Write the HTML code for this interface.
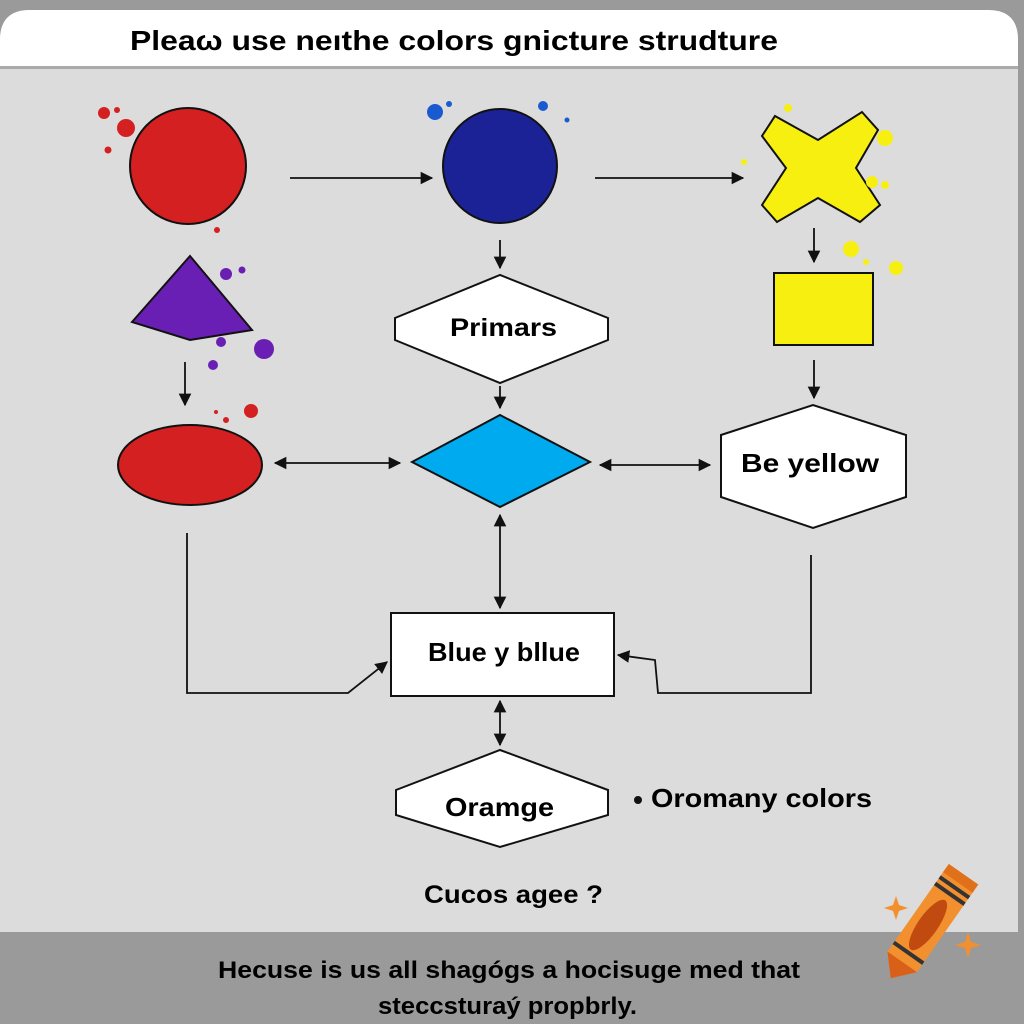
<!DOCTYPE html>
<html><head><meta charset="utf-8"><style>
html,body{margin:0;padding:0;background:#999;}
svg{display:block;font-family:"Liberation Sans",sans-serif;}
</style></head><body>
<svg width="1024" height="1024" viewBox="0 0 1024 1024" xmlns="http://www.w3.org/2000/svg">
<defs>
<marker id="a" viewBox="0 0 10 10" refX="9" refY="5" markerWidth="7" markerHeight="7" orient="auto-start-reverse"><path d="M0,0L10,5L0,10z" fill="#111"/></marker>
</defs>
<rect width="1024" height="1024" fill="#9a9a9a"/>
<path d="M0,932 L0,40 Q0,10 30,10 L988,10 Q1018,10 1018,40 L1018,932 Z" fill="#dcdcdc"/>
<path d="M0,66 L0,40 Q0,10 30,10 L988,10 Q1018,10 1018,40 L1018,66 Z" fill="#fff"/>
<rect x="0" y="66" width="1018" height="3" fill="#aaa"/>
<text x="130" y="50" font-size="28" font-weight="bold" fill="#000" textLength="648" lengthAdjust="spacingAndGlyphs">Pleaω  use neıthe colors  gnicture strudture</text>

<circle cx="188" cy="166" r="58" fill="#d42020" stroke="#111" stroke-width="2"/>
<circle cx="126" cy="128" r="9" fill="#d42020"/><circle cx="104" cy="113" r="6" fill="#d42020"/><circle cx="117" cy="110" r="3" fill="#d42020"/><circle cx="108" cy="150" r="3.5" fill="#d42020"/><circle cx="217" cy="230" r="3" fill="#d42020"/>
<circle cx="500" cy="166" r="57" fill="#1a2296" stroke="#111" stroke-width="2"/>
<circle cx="435" cy="112" r="8" fill="#1a5ad0"/><circle cx="449" cy="104" r="3" fill="#1a5ad0"/><circle cx="543" cy="106" r="5" fill="#1a5ad0"/><circle cx="567" cy="120" r="2.5" fill="#1a5ad0"/>
<path d="M775,116 L818,140 L862,112 L878,130 L856,168 L880,205 L860,222 L818,198 L777,222 L762,205 L786,168 L762,136 Z" fill="#f7ef10" stroke="#111" stroke-width="2"/>
<circle cx="885" cy="138" r="8" fill="#f7ef10"/><circle cx="872" cy="182" r="6" fill="#f7ef10"/><circle cx="788" cy="108" r="4" fill="#f7ef10"/><circle cx="744" cy="162" r="3" fill="#f7ef10"/><circle cx="885" cy="185" r="4" fill="#f7ef10"/>
<g stroke="#111" stroke-width="1.8" fill="none" marker-end="url(#a)">
<line x1="290" y1="178" x2="432" y2="178"/>
<line x1="595" y1="178" x2="743" y2="178"/>
<line x1="500" y1="240" x2="500" y2="268"/>
<line x1="500" y1="386" x2="500" y2="408"/>
<line x1="185" y1="362" x2="185" y2="405"/>
<line x1="814" y1="228" x2="814" y2="262"/>
<line x1="814" y1="360" x2="814" y2="398"/>
<line x1="275" y1="463" x2="400" y2="463" marker-start="url(#a)"/>
<line x1="600" y1="465" x2="710" y2="465" marker-start="url(#a)"/>
<line x1="500" y1="515" x2="500" y2="608" marker-start="url(#a)"/>
<line x1="500" y1="701" x2="500" y2="745" marker-start="url(#a)"/>
<polyline points="187,533 187,693 348,693 387,662"/>
<polyline points="811,555 811,693 658,693 655,660 618,655"/>
</g>
<polygon points="132,322 190,256 252,330 190,340" fill="#6a1fb4" stroke="#111" stroke-width="2"/>
<circle cx="226" cy="274" r="6" fill="#6a1fb4"/><circle cx="242" cy="270" r="3.5" fill="#6a1fb4"/><circle cx="264" cy="349" r="10" fill="#6a1fb4"/><circle cx="221" cy="342" r="5" fill="#6a1fb4"/><circle cx="213" cy="365" r="5" fill="#6a1fb4"/>
<ellipse cx="190" cy="465" rx="72" ry="40" fill="#d42020" stroke="#111" stroke-width="2"/>
<circle cx="251" cy="411" r="7" fill="#d42020"/><circle cx="226" cy="420" r="3" fill="#d42020"/><circle cx="216" cy="412" r="2" fill="#d42020"/>
<polygon points="395,318 500,275 608,318 608,340 500,383 395,340" fill="#fff" stroke="#111" stroke-width="2"/>
<text x="450" y="336" font-size="25" font-weight="bold" textLength="107" lengthAdjust="spacingAndGlyphs">Primars</text>
<polygon points="412,462 500,415 590,462 500,507" fill="#00aaee" stroke="#111" stroke-width="2"/>
<rect x="774" y="273" width="99" height="72" fill="#f7ef10" stroke="#111" stroke-width="2"/>
<circle cx="851" cy="249" r="8" fill="#f7ef10"/><circle cx="896" cy="268" r="7" fill="#f7ef10"/><circle cx="866" cy="262" r="3" fill="#f7ef10"/>
<polygon points="721,435 813,405 906,435 906,497 813,528 721,497" fill="#fff" stroke="#111" stroke-width="2"/>
<text x="741" y="472" font-size="26" font-weight="bold" textLength="138" lengthAdjust="spacingAndGlyphs">Be yellow</text>
<rect x="391" y="613" width="223" height="83" fill="#fff" stroke="#111" stroke-width="2"/>
<text x="428" y="661" font-size="26" font-weight="bold" textLength="152" lengthAdjust="spacingAndGlyphs">Blue y bllue</text>
<polygon points="396,790 500,750 608,790 608,815 500,847 396,815" fill="#fff" stroke="#111" stroke-width="2"/>
<text x="445" y="816" font-size="26" font-weight="bold" textLength="109" lengthAdjust="spacingAndGlyphs">Oramge</text>
<circle cx="638" cy="800" r="4" fill="#111"/>
<text x="651" y="807" font-size="26" font-weight="bold" textLength="221" lengthAdjust="spacingAndGlyphs">Oromany colors</text>
<text x="424" y="903" font-size="25" font-weight="bold" textLength="179" lengthAdjust="spacingAndGlyphs">Cucos agee  ?</text>
<text x="218" y="978" font-size="24" font-weight="bold" textLength="582" lengthAdjust="spacingAndGlyphs">Hecuse is us all  shagógs a hocisuge  med that</text>
<text x="378" y="1014" font-size="24" font-weight="bold" textLength="259" lengthAdjust="spacingAndGlyphs">steccsturaý propbrly.</text>
<g transform="translate(928,925) rotate(35)">
<polygon points="-18,-55 18,-55 18,45 0,65 -18,45" fill="#f29030"/>
<rect x="-18" y="-62" width="36" height="10" fill="#e0701a"/>
<ellipse cx="0" cy="0" rx="10" ry="30" fill="#c04a10"/>
<rect x="-18" y="-48" width="36" height="4" fill="#333"/>
<rect x="-18" y="-40" width="36" height="4" fill="#333"/>
<rect x="-18" y="32" width="36" height="4" fill="#333"/>
<polygon points="-18,45 18,45 0,65" fill="#d86018"/>
</g>
<path d="M896,896 l3,9 l9,3 l-9,3 l-3,9 l-3,-9 l-9,-3 l9,-3z" fill="#f29030"/>
<path d="M968,932 l3,10 l10,3 l-10,3 l-3,10 l-3,-10 l-10,-3 l10,-3z" fill="#f29030"/>
</svg>
</body></html>
